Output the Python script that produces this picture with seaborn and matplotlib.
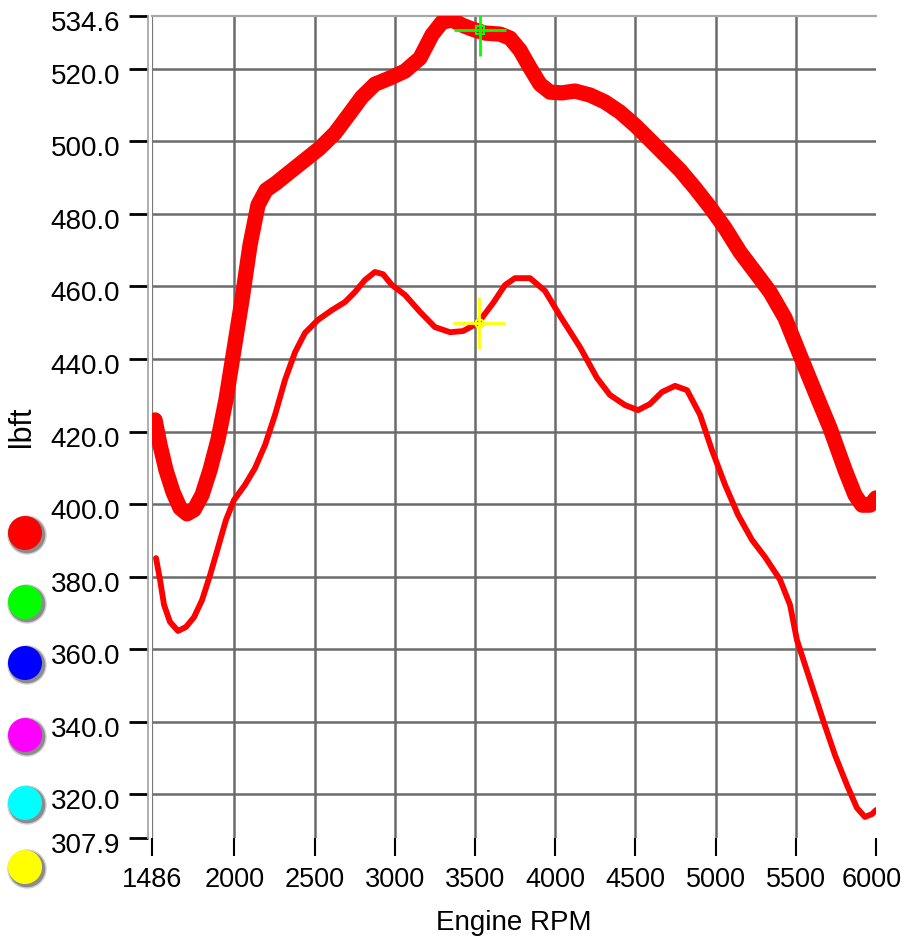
import matplotlib
matplotlib.use("Agg")
import matplotlib.pyplot as plt
from matplotlib.patches import Circle
from matplotlib.transforms import ScaledTranslation
import seaborn as sns

# upper (thick) torque trace
upper_rpm = [1505, 1536, 1573, 1617, 1661, 1704, 1748, 1798, 1848, 1897, 1947, 1997,
             2047, 2097, 2147, 2197, 2259, 2346, 2440, 2533, 2627, 2720, 2795, 2876,
             2970, 3063, 3157, 3232, 3294, 3357, 3419, 3481, 3562, 3656, 3718, 3780,
             3843, 3905, 3967, 4042, 4123, 4217, 4310, 4404, 4497, 4591, 4684, 4778,
             4871, 4965, 5059, 5152, 5246, 5339, 5433, 5526, 5620, 5713, 5807, 5869,
             5913, 5963, 6000]
upper_lbft = [423.2, 416.3, 409.4, 403.3, 398.9, 397.3, 398.4, 402.5, 409.4, 417.7, 428.7, 442.5,
              456.3, 471.4, 482.5, 486.6, 488.5, 491.6, 494.9, 498.2, 502.3, 507.8, 512.3, 515.8,
              517.5, 519.4, 523.0, 529.4, 532.9, 533.5, 532.1, 531.0, 529.9, 529.6, 528.5, 525.2,
              520.3, 515.8, 513.6, 513.4, 513.9, 512.8, 510.9, 508.1, 504.5, 500.4, 496.3, 492.1,
              487.2, 481.9, 476.1, 469.5, 464.0, 458.5, 451.3, 441.1, 430.9, 421.0, 409.4, 402.5,
              399.7, 399.7, 401.7]

# lower (thin) torque trace
lower_rpm = [1511, 1536, 1561, 1598, 1648, 1698, 1748, 1798, 1848, 1897, 1947, 1997,
             2066, 2128, 2191, 2253, 2315, 2378, 2440, 2521, 2608, 2689, 2752, 2814,
             2876, 2926, 2982, 3063, 3157, 3250, 3344, 3425, 3518, 3612, 3687, 3749,
             3843, 3936, 4030, 4154, 4260, 4341, 4435, 4516, 4591, 4666, 4747, 4822,
             4903, 4977, 5059, 5140, 5227, 5308, 5402, 5464, 5507, 5588, 5670, 5744,
             5819, 5881, 5931, 5975, 6000]
lower_lbft = [385.1, 379.1, 372.2, 367.5, 365.0, 366.1, 368.8, 373.5, 380.4, 387.9, 395.6, 401.1,
              405.3, 409.9, 416.3, 424.6, 434.2, 441.9, 447.2, 450.8, 453.5, 455.7, 458.5, 461.8,
              464.0, 463.4, 460.4, 457.7, 453.0, 448.8, 447.4, 447.7, 449.9, 455.4, 460.4, 462.3,
              462.3, 458.8, 451.9, 443.3, 434.8, 430.1, 427.3, 425.9, 427.6, 430.9, 432.6, 431.4,
              424.6, 414.9, 405.3, 397.0, 390.1, 385.4, 379.1, 372.2, 362.5, 351.5, 340.4, 330.8,
              322.5, 316.2, 313.7, 314.5, 315.6]

# cursor positions
cursor_rpm = [3531, 3525]
cursor_lbft = [530.7, 449.9]

x_ticks = [1486, 2000, 2500, 3000, 3500, 4000, 4500, 5000, 5500, 6000]
y_ticks = [307.9, 320.0, 340.0, 360.0, 380.0, 400.0, 420.0, 440.0, 460.0, 480.0, 500.0, 520.0, 534.6]
swatch_colors = ["#ff0000", "#00ff00", "#0000ff", "#ff00ff", "#00ffff", "#ffff00"]

sns.set_theme(style="white")
plt.rcParams["font.family"] = ["Liberation Sans", "DejaVu Sans"]

fig = plt.figure(figsize=(9.05, 9.43), dpi=100, facecolor="white")
ax = fig.add_axes([152 / 905, 1 - 838 / 943, 724 / 905, 822 / 943])

sns.lineplot(x=upper_rpm, y=upper_lbft, ax=ax, color="#ff0000", linewidth=11,
             solid_capstyle="round", solid_joinstyle="round", zorder=3)
sns.lineplot(x=lower_rpm, y=lower_lbft, ax=ax, color="#ff0000", linewidth=4.2,
             solid_capstyle="round", solid_joinstyle="round", zorder=3)

# cursors
ax.plot(cursor_rpm[0], cursor_lbft[0], marker="+", ms=38, mew=2, color="#00ff00", zorder=5)
ax.plot(cursor_rpm[0], cursor_lbft[0], marker="s", ms=6, mew=1.5, mfc="none", mec="#00ff00", zorder=5)
ax.plot(cursor_rpm[1], cursor_lbft[1], marker="+", ms=38, mew=2, color="#ffff00", zorder=5)
ax.plot(cursor_rpm[1], cursor_lbft[1], marker="o", ms=6, mew=1.5, mfc="none", mec="#ffff00", zorder=5)

ax.set_xlim(x_ticks[0], x_ticks[-1])
ax.set_ylim(y_ticks[0], y_ticks[-1])
ax.set_xticks(x_ticks)
ax.set_xticklabels([str(t) for t in x_ticks])
ax.set_yticks(y_ticks)
ax.set_yticklabels([f"{t:.1f}" for t in y_ticks])

# grid
for xv in x_ticks[1:-1]:
    ax.axvline(xv, color="#6b6b6b", lw=1.8, zorder=1)
for yv in y_ticks[1:-1]:
    ax.axhline(yv, color="#6b6b6b", lw=1.8, zorder=1)
ax.axvline(x_ticks[0], color="#7a7a7a", lw=1.6, zorder=2)

for side in ["right", "bottom"]:
    ax.spines[side].set_visible(False)
ax.spines["top"].set_color("#a8a8a8")
ax.spines["top"].set_linewidth(1.6)
ax.spines["left"].set_color("#a8a8a8")
ax.spines["left"].set_linewidth(1.3)
ax.spines["left"].set_position(("outward", 3))

ax.tick_params(axis="y", direction="out", length=14, width=2, color="black",
               pad=6, labelsize=20, left=True, labelcolor="black")
ax.tick_params(axis="x", direction="out", length=13, width=1.5, color="black",
               pad=8, labelsize=19.5, bottom=True, labelcolor="black")

for lbl in ax.get_yticklabels():
    lbl.set_transform(lbl.get_transform() + ScaledTranslation(0, -0.05, fig.dpi_scale_trans))
xlabels = ax.get_xticklabels()
xlabels[-1].set_transform(xlabels[-1].get_transform() + ScaledTranslation(-0.04, 0, fig.dpi_scale_trans))

ax.set_xlabel("Engine RPM", fontsize=20, color="black")
ax.xaxis.set_label_coords(0.5, -0.088)
ax.set_ylabel("lbft", fontsize=22, color="black", va="center")
ax.yaxis.set_label_coords(-0.18, 0.5)

# colour swatches on the left
swatch_y = [533, 602, 663, 735, 803, 867]
for col, py in zip(swatch_colors, swatch_y):
    cx, cy = 25 / 100, (943 - py) / 100
    fig.add_artist(Circle((cx + 0.02, cy - 0.02), 0.19, transform=fig.dpi_scale_trans,
                          facecolor="#8c8c8c", edgecolor="#d0d0d0", lw=1))
    fig.add_artist(Circle((cx, cy), 0.17, transform=fig.dpi_scale_trans,
                          facecolor=col, edgecolor="none"))

fig.savefig("out.png", dpi=100, facecolor="white")
